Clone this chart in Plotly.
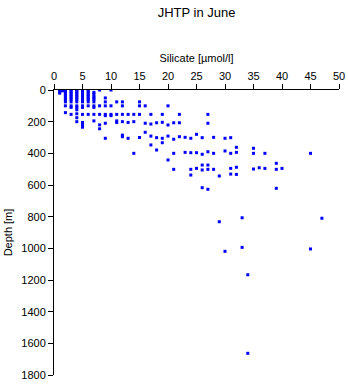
import plotly.graph_objects as go

# Silicate [µmol/l] -> list of sampled depths [m]
silicate_levels = [1, 1.5, 2, 3, 4, 5, 6, 7, 8, 9, 10, 11, 12, 13, 14, 15, 16, 17, 18, 19,
                   20, 21, 22, 23, 24, 25, 26, 27, 28, 29, 30, 31, 32, 33, 34, 35, 36, 37,
                   39, 40, 45, 47]
depths_per_level = [
    [0, 10, 20],
    [5],
    [0, 10, 20, 30, 40, 50, 60, 75, 100, 143],
    [0, 10, 20, 30, 40, 50, 60, 75, 100, 110, 154],
    [0, 10, 20, 30, 40, 50, 60, 75, 100, 110, 125, 150, 175, 200],
    [0, 10, 20, 30, 40, 50, 60, 75, 100, 110, 154, 205, 220, 235],
    [0, 10, 20, 30, 40, 50, 60, 75, 100, 154],
    [15, 25, 40, 50, 60, 75, 100, 110, 154, 195],
    [0, 100, 154, 220, 245],
    [50, 75, 100, 154, 162, 210, 305],
    [0, 100, 154, 162],
    [75, 154, 195, 205],
    [75, 100, 154, 200, 285, 295],
    [154, 205, 305],
    [154, 200, 400],
    [75, 100, 154, 300],
    [100, 210, 267],
    [154, 215, 291, 347],
    [207, 301, 379],
    [154, 204, 305, 333],
    [100, 221, 291, 442],
    [207, 311, 400, 501],
    [154, 207, 295],
    [299, 394],
    [305, 396, 501, 537],
    [280, 396, 495],
    [301, 406, 474, 505, 617],
    [154, 210, 390, 474, 501, 627],
    [299, 400, 501],
    [543, 832],
    [305, 385, 1019],
    [301, 400, 495, 531],
    [362, 394, 488, 533],
    [807, 994],
    [1167, 1663],
    [368, 400, 499],
    [491],
    [400, 495],
    [463, 501, 621],
    [495],
    [400, 1004],
    [810],
]

x_ticks = list(range(0, 51, 5))
y_ticks = list(range(0, 1801, 200))

silicate = []
depth = []
for s, ds in zip(silicate_levels, depths_per_level):
    for d in ds:
        silicate.append(s)
        depth.append(d)

fig = go.Figure(go.Scatter(
    x=silicate, y=depth, mode="markers",
    marker=dict(symbol="square", size=3, color="#0000ff", line=dict(width=0)),
    showlegend=False,
))

font = dict(family="Liberation Sans, Arial, sans-serif", size=11, color="black")

fig.update_layout(
    width=348, height=384,
    margin=dict(l=54, r=9, t=90, b=9),
    paper_bgcolor="white", plot_bgcolor="white",
    font=font,
    title=dict(text="JHTP in June", x=0.565, xanchor="center", y=1 - 12 / 384,
               yanchor="middle", font=dict(family="Liberation Sans, Arial, sans-serif", size=13, color="black")),
    xaxis=dict(
        side="top", range=[0, 50], tickvals=x_ticks, ticks="outside", ticklen=5,
        tickcolor="black", showline=True, linecolor="black", linewidth=1,
        showgrid=False, zeroline=False, mirror=False, automargin=False,
        title=dict(text="Silicate [µmol/l]", standoff=4, font=font),
    ),
    yaxis=dict(
        range=[1800, 0], tickvals=y_ticks, ticks="outside", ticklen=5,
        tickcolor="black", showline=True, linecolor="black", linewidth=1,
        showgrid=False, zeroline=False, mirror=False, automargin=False,
        title=dict(text="Depth [m]", standoff=6, font=font),
    ),
)

fig.write_html("out.html")
